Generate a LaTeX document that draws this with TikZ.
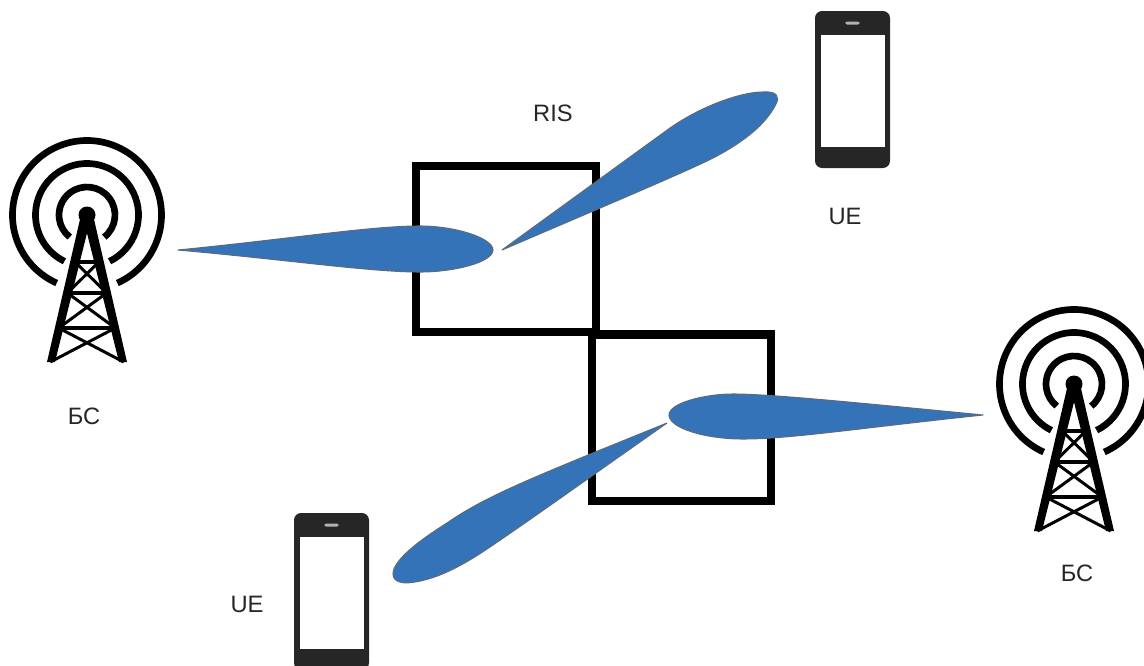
\documentclass[tikz,border=0pt]{standalone}
\usepackage{fontspec}
\setmainfont{Liberation Sans}
\definecolor{lobeblue}{HTML}{3573B9}
\definecolor{lobeedge}{HTML}{5B6B7C}
\definecolor{phonegray}{HTML}{262626}
\tikzset{
	lobe/.style = {fill = lobeblue, draw = lobeedge, line width = 0.6pt, line join = round},
	panel/.style = {draw = black, line width = 5pt, line join = miter},
	label/.style = {font = \fontsize{13.5}{16}\selectfont, text = black!85, inner sep = 0pt}
}

\begin{document}
\begin{tikzpicture}[x = 0.02cm, y = -0.02cm]
		\clip (0,0) rectangle (1144,666);
		
		% RIS panels
		\draw [panel] (416,166) rectangle (596,332);
		\draw [panel] (592,334.5) rectangle (771,501);
		
		% base stations
		\foreach \x/\y in {87/215, 1074/384} {
			\begin{scope}[shift = {(\x,\y)}]
				\draw [line width = 3.8pt] (66:74.5) arc (66:-246:74.5);
				\draw [line width = 3.8pt] (64:51.5) arc (64:-244:51.5);
				\draw [line width = 3.8pt] (52:28) arc (52:-232:28);
				\fill (0,0) circle [radius = 8.5];
				\fill (-40,147) -- (-6,0) -- (6,0) -- (40,147) -- (32,147) -- (0,18) -- (-32,147) -- cycle;
				\foreach \b in {47,78,113} {
					\draw [line width = 2.2pt] ({-\b/4},\b) -- ({\b/4},\b);
				}
				\foreach \a/\b in {47/78, 78/113, 113/147} {
					\draw [line width = 1.7pt] ({-\a/4},\a) -- ({\b/4},\b);
					\draw [line width = 1.7pt] ({\a/4},\a) -- ({-\b/4},\b);
				}
			\end{scope}
		}
		
		% phones
		\foreach \x/\y/\h in {815/11/157, 294/513/157} {
			\begin{scope}[shift = {(\x,\y)}]
				\fill [phonegray, rounded corners = 4pt] (0,0) rectangle (75,\h);
				\fill [white] (6,23.5) rectangle (70,136);
				\fill [white!70!black, rounded corners = 1pt] (30,10.5) rectangle (45,13.5);
			\end{scope}
		}
		
		% beams
		\draw [lobe] (178,250) .. controls (290,239) and (370,226) .. (420,226)
			.. controls (455,226) and (493,238) .. (493,250)
			.. controls (493,262) and (455,272) .. (420,272)
			.. controls (370,272) and (290,260) .. cycle;
		\draw [lobe] (502,250) -- (670,128) .. controls (700,107) and (740,92) .. (763,92)
			.. controls (777,91) and (780,97) .. (776,104)
			.. controls (766,124) and (745,141) .. (715,157)
			.. controls (690,170) and (600,208) .. cycle;
		\draw [lobe] (669,415) .. controls (669,403) and (705,394) .. (733,394)
			.. controls (770,394) and (860,403) .. (983,415)
			.. controls (860,428) and (790,439) .. (743,439)
			.. controls (705,439) and (669,428) .. cycle;
		\draw [lobe] (667,423) -- (593,453) .. controls (520,483) and (480,500) .. (447,523)
			.. controls (420,540) and (393,560) .. (393,574)
			.. controls (393,583) and (405,584) .. (415,582)
			.. controls (440,578) and (465,564) .. (490,547)
			.. controls (530,520) and (600,470) .. cycle;
		
		\node [label] (ris) at (553,113) {RIS};
		\node [label] (ueTop) at (845,216) {UE};
		\node [label] (ueBottom) at (247,604) {UE};
		\node [label] (bsLeft) at (84,416) {БС};
		\node [label] (bsRight) at (1077,573) {БС};
	\end{tikzpicture}
\end{document}
